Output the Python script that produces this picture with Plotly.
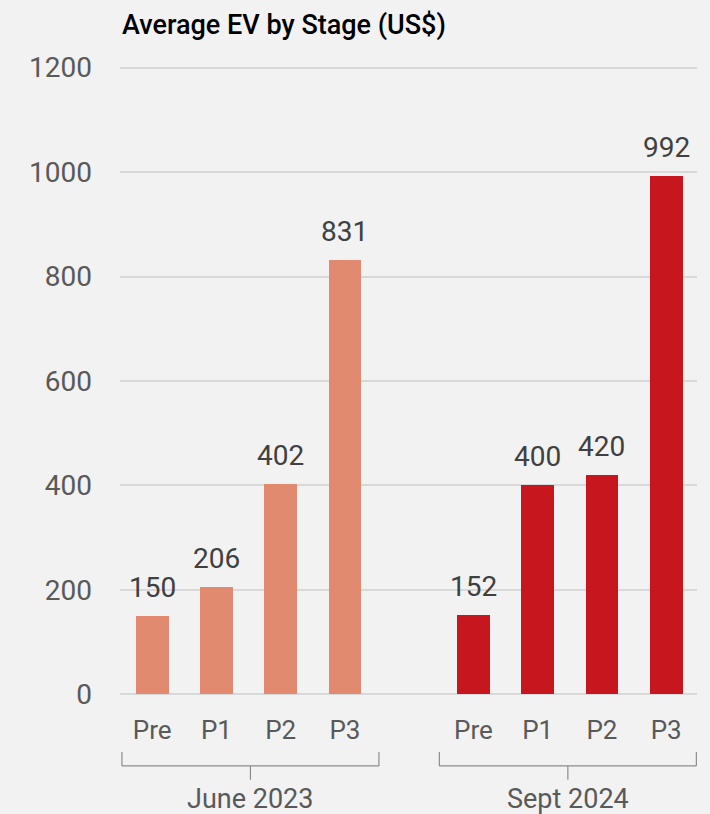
import plotly.graph_objects as go

stages = ["Pre", "P1", "P2", "P3"]
june_2023 = [150, 206, 402, 831]
sept_2024 = [152, 400, 420, 992]
groups = ["June 2023", "Sept 2024"]
yticks = [0, 200, 400, 600, 800, 1000, 1200]

june_color = "#e28a6f"
sept_color = "#c8161e"
label_grey = "#595959"
value_grey = "#404040"

# numeric slots: June stages at 0-3, Sept stages at 5-8
june_x = list(range(len(stages)))
sept_x = [i + len(stages) + 1 for i in range(len(stages))]

fig = go.Figure()
for xs, vals, color in [(june_x, june_2023, june_color), (sept_x, sept_2024, sept_color)]:
    fig.add_trace(go.Bar(
        x=xs, y=vals, width=0.51, marker=dict(color=color, line=dict(width=0)),
        showlegend=False, hoverinfo="skip",
    ))
    # value labels above each bar
    for x, v in zip(xs, vals):
        fig.add_annotation(x=x, y=v, text=str(v), showarrow=False, yanchor="bottom",
                           yshift=10, font=dict(size=28, color=value_grey, family="Roboto"))

fig.update_layout(
    width=710, height=814,
    paper_bgcolor="#f2f2f2", plot_bgcolor="#f2f2f2",
    margin=dict(l=120, r=13, t=66, b=118),
    bargap=0,
    font=dict(family="Roboto", color=label_grey),
    xaxis=dict(
        range=[-0.5, 8.48], tickvals=june_x + sept_x, ticktext=stages + stages,
        showgrid=False, zeroline=False, showline=False, ticks="",
        tickfont=dict(size=26, color=label_grey), ticklabelstandoff=16,
    ),
    yaxis=dict(
        range=[-3, 1203], tickvals=yticks, showgrid=True, gridcolor="#d9d9d9", gridwidth=1.5,
        zeroline=True, zerolinecolor="#d9d9d9", zerolinewidth=1.5, showline=False, ticks="",
        tickfont=dict(size=28, color=label_grey), ticklabelstandoff=27,
    ),
)

fig.add_annotation(
    text="Average EV by Stage (US$)", xref="paper", yref="paper", x=0, y=1.0,
    xanchor="left", yanchor="middle", yshift=41, showarrow=False,
    font=dict(size=27, color="#000000", family="Roboto", weight=500),
)

# group brackets under the stage labels
bracket_color = "#8c8c8c"
spans = [(june_x[0] - 0.47, june_x[-1] + 0.53), (sept_x[0] - 0.53, sept_x[-1] + 0.47)]
for (left, right), name in zip(spans, groups):
    mid = (left + right) / 2
    y_line, y_top, y_bot = -0.111, -0.089, -0.133
    line = dict(color=bracket_color, width=1.2)
    fig.add_shape(type="line", xref="x", yref="paper", x0=left, x1=right, y0=y_line, y1=y_line, line=line)
    fig.add_shape(type="line", xref="x", yref="paper", x0=left, x1=left, y0=y_top, y1=y_line, line=line)
    fig.add_shape(type="line", xref="x", yref="paper", x0=right, x1=right, y0=y_top, y1=y_line, line=line)
    fig.add_shape(type="line", xref="x", yref="paper", x0=mid, x1=mid, y0=y_line, y1=y_bot, line=line)
    fig.add_annotation(text=name, xref="x", yref="paper", x=mid, y=-0.1635, yanchor="middle",
                       showarrow=False, font=dict(size=27, color=label_grey))

fig.write_html("out.html")
